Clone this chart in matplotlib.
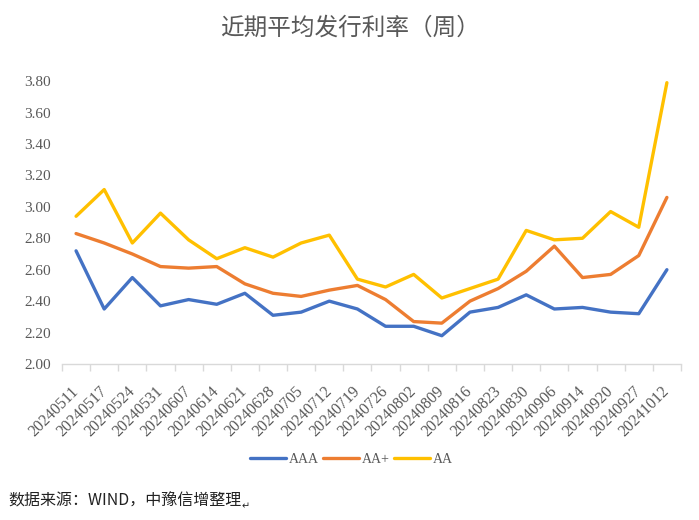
import matplotlib
matplotlib.use('Agg')
import matplotlib.pyplot as plt
import matplotlib.transforms as mtransforms
import numpy as np

dates = ['20240511', '20240517', '20240524', '20240531', '20240607', '20240614',
         '20240621', '20240628', '20240705', '20240712', '20240719', '20240726',
         '20240802', '20240809', '20240816', '20240823', '20240830', '20240906',
         '20240914', '20240920', '20240927', '20241012']
aaa = [2.72, 2.35, 2.55, 2.37, 2.41, 2.38, 2.45, 2.31, 2.33, 2.40, 2.35, 2.24,
       2.24, 2.18, 2.33, 2.36, 2.44, 2.35, 2.36, 2.33, 2.32, 2.60]
aa_plus = [2.83, 2.77, 2.70, 2.62, 2.61, 2.62, 2.51, 2.45, 2.43, 2.47, 2.50, 2.41,
           2.27, 2.26, 2.40, 2.48, 2.59, 2.75, 2.55, 2.57, 2.69, 3.06]
aa = [2.94, 3.11, 2.77, 2.96, 2.79, 2.67, 2.74, 2.68, 2.77, 2.82, 2.54, 2.49,
      2.57, 2.42, 2.48, 2.54, 2.85, 2.79, 2.80, 2.97, 2.87, 3.79]
series_names = ['AAA', 'AA+', 'AA']
colors = ['#4472C4', '#ED7D31', '#FFC000']
yticks = [2.0, 2.2, 2.4, 2.6, 2.8, 3.0, 3.2, 3.4, 3.6, 3.8]

serif = ['Liberation Serif', 'DejaVu Serif']
cjk = ['Noto Sans CJK SC', 'DejaVu Sans']
grey = '#595959'

fig = plt.figure(figsize=(6.99, 5.2), dpi=100)
ax = fig.add_axes([0.0887, 0.3, 0.8855, 0.544])

x = np.arange(len(dates))
for vals, name, c in zip([aaa, aa_plus, aa], series_names, colors):
    ax.plot(x, vals, color=c, lw=2.4, label=name, solid_capstyle='round',
            solid_joinstyle='round')

ax.set_xlim(-0.5, len(dates) - 0.5)
ax.set_ylim(2.0, 3.8)
ax.set_yticks(yticks)
ax.set_yticklabels(['%.2f' % v for v in yticks], family=serif, fontsize=11, color=grey)
ax.tick_params(axis='y', length=0, pad=8)

ax.set_xticks(x)
ax.set_xticklabels(dates, rotation=45, ha='right', va='center', rotation_mode='anchor',
                   family=serif, fontsize=11.5, color=grey)
shift = mtransforms.ScaledTranslation(6 / 72, 0, fig.dpi_scale_trans)
for lab in ax.get_xticklabels():
    lab.set_transform(lab.get_transform() + shift)
ax.set_xticks(np.arange(len(dates) + 1) - 0.5, minor=True)
ax.tick_params(axis='x', which='major', length=0, pad=18)
ax.tick_params(axis='x', which='minor', length=5, color='#D9D9D9', width=1)

for s in ['top', 'right', 'left']:
    ax.spines[s].set_visible(False)
ax.spines['bottom'].set_color('#D9D9D9')
ax.spines['bottom'].set_linewidth(1)

fig.text(0.5, 0.946, '近期平均发行利率（周）', ha='center', va='center',
         family=cjk, fontsize=17, color=grey)

fig.legend(loc='center', bbox_to_anchor=(0.503, 0.117), ncol=3, frameon=False,
           prop={'family': serif, 'size': 10}, handlelength=2.6,
           handletextpad=0.2, columnspacing=0.3, labelcolor=grey)

fig.text(0.012, 0.036, '数据来源：WIND，中豫信增整理', ha='left', va='center',
         family=cjk, fontsize=11.5, color='#222222')
fig.text(0.345, 0.026, '↵', ha='left', va='center', family=cjk, fontsize=7,
         color='#222222')

plt.savefig('out.png', dpi=100)
